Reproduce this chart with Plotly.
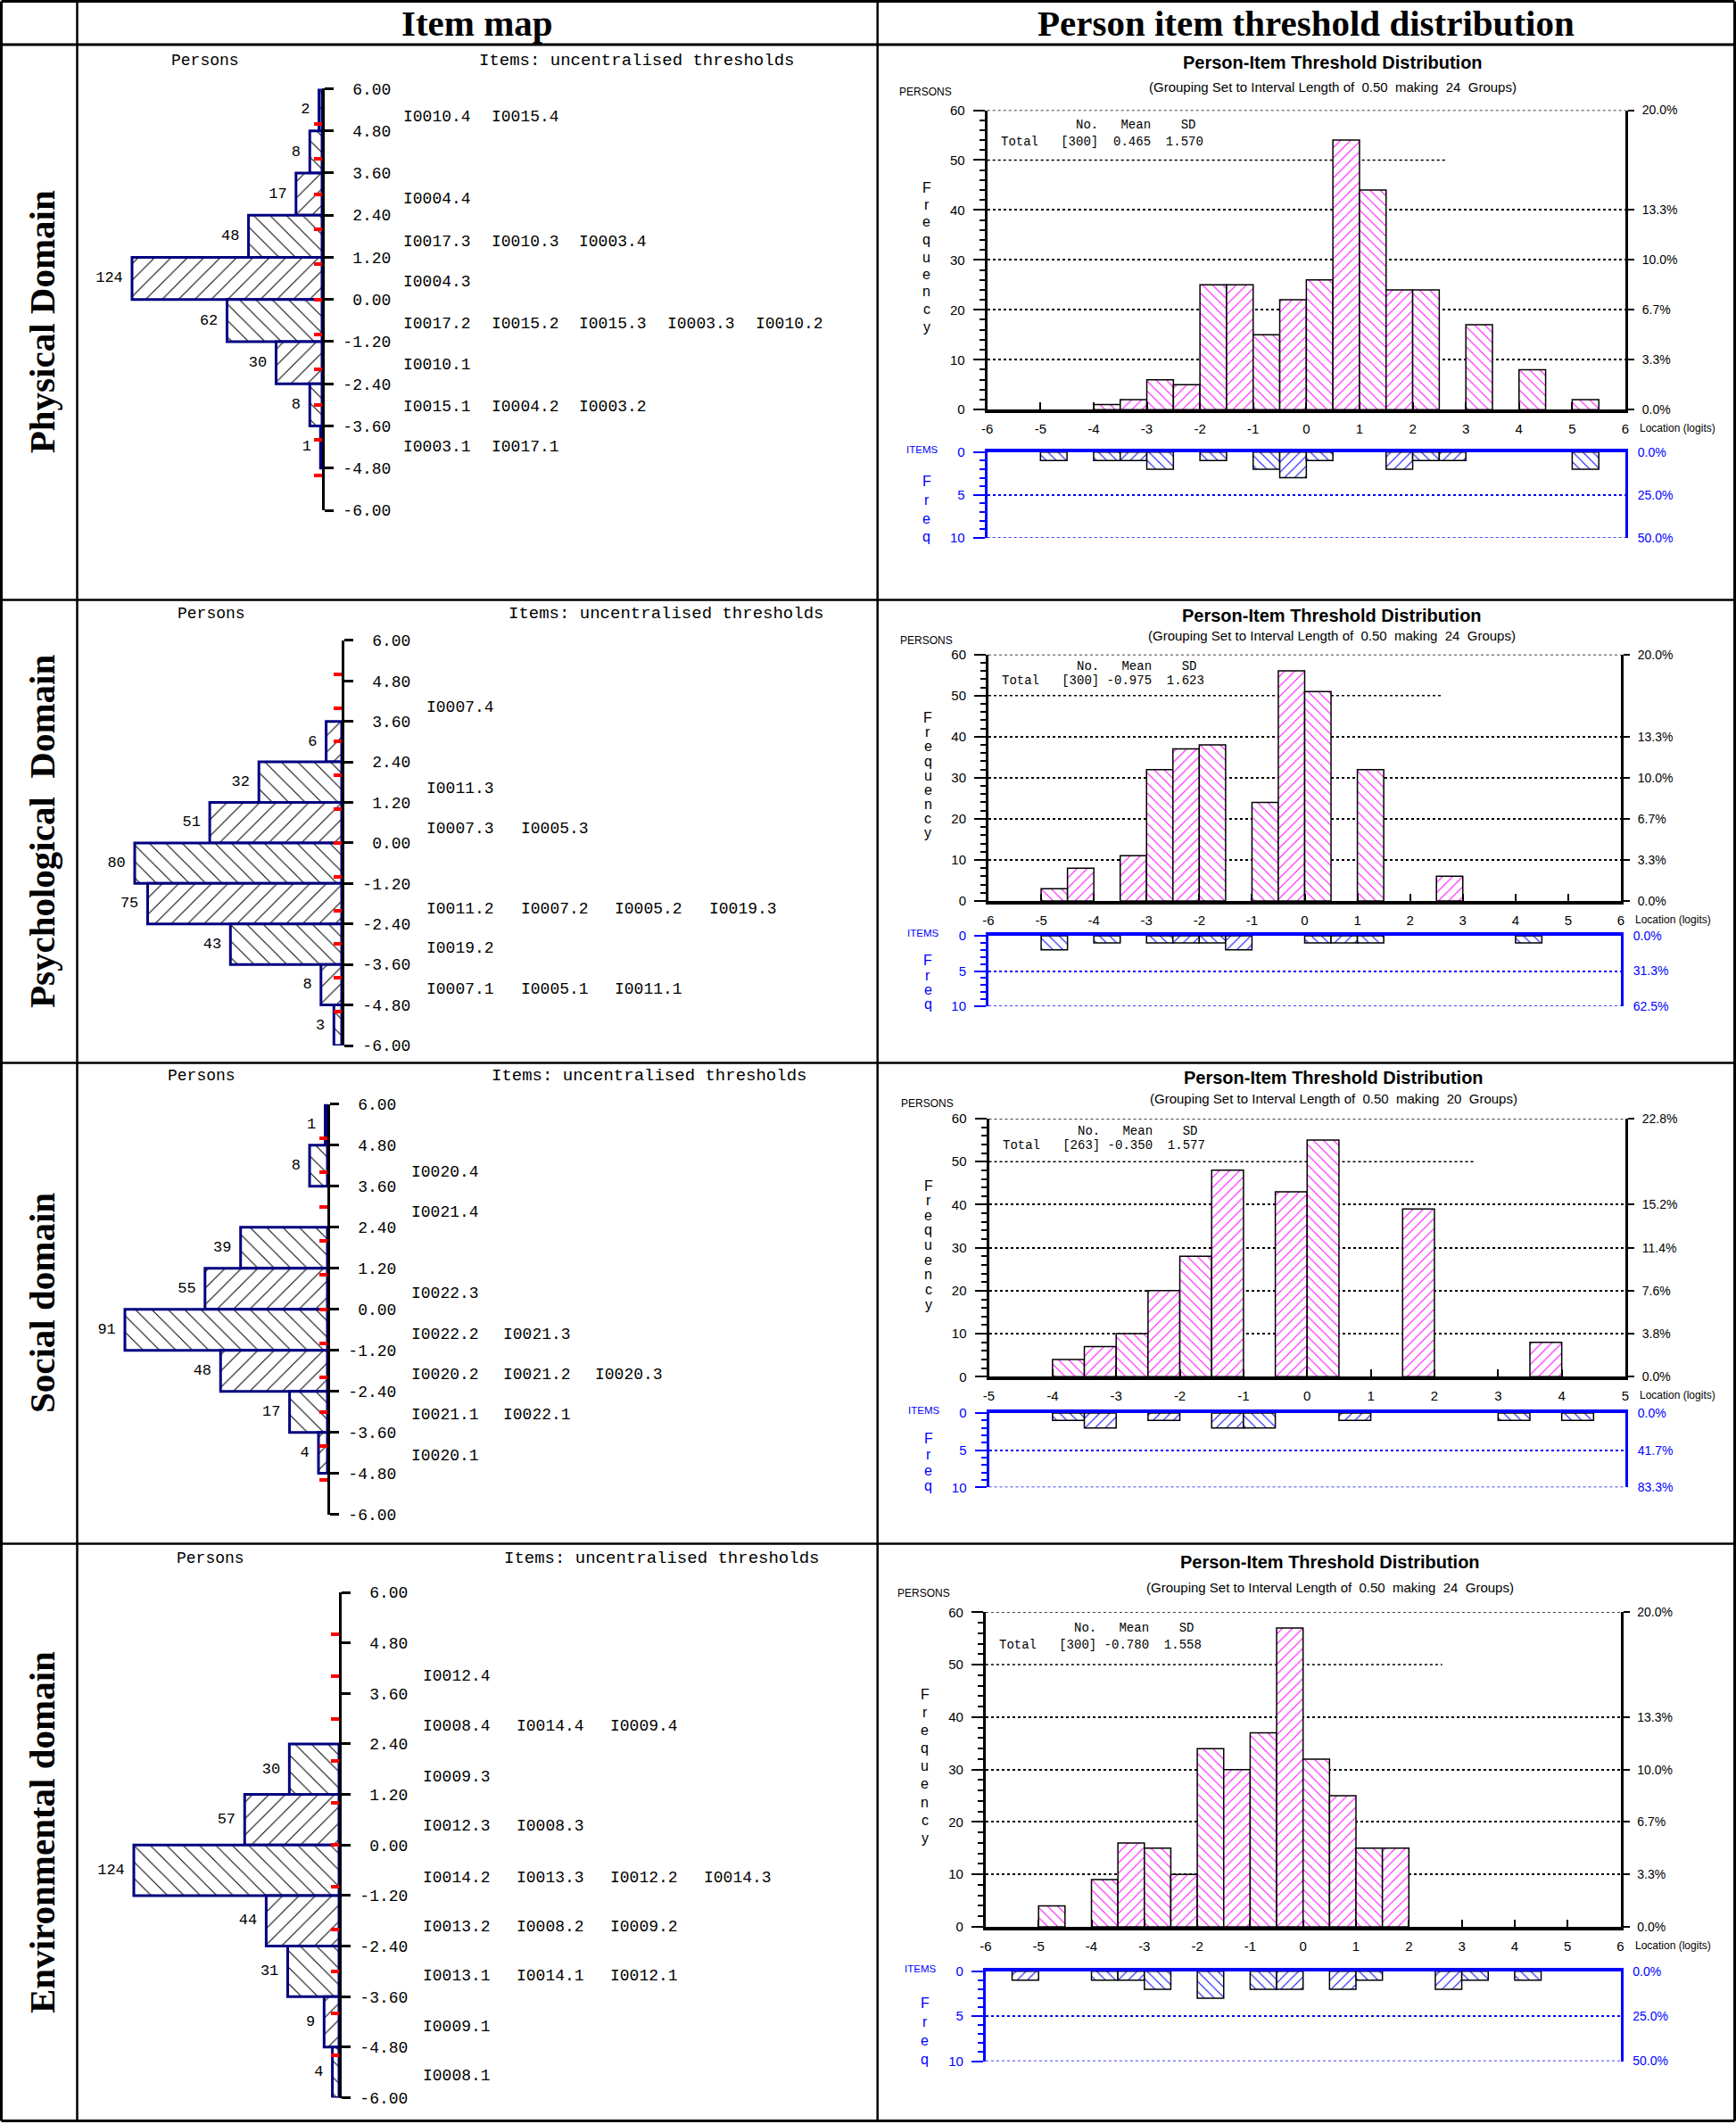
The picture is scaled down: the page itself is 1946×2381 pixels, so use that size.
import plotly.graph_objects as go

W, H = 1946, 2381
NB = "\u00a0"

# ---------------------------------------------------------------- data
ROW_LABELS = ["Physical Domain", "Psychological" + NB + " Domain", "Social domain", "Environmental domain"]
HEADERS = ["Item map", "Person item threshold distribution"]

# Item map: persons per 1.2-logit band, from top (6.0) to bottom (-6.0)
MAP_TICKS = [6.0, 4.8, 3.6, 2.4, 1.2, 0.0, -1.2, -2.4, -3.6, -4.8, -6.0]
MAP_BIN_CENTERS = [5.4, 4.2, 3.0, 1.8, 0.6, -0.6, -1.8, -3.0, -4.2, -5.4]
MAP_RED_TICKS = [6, 5, 4, 3, 2, 1, 0, -1, -2, -3, -4, -5, -6]

PHYS_MAP_PERSONS = [2, 8, 17, 48, 124, 62, 30, 8, 1, 0]
PSYCH_MAP_PERSONS = [0, 0, 6, 32, 51, 80, 75, 43, 8, 3]
SOC_MAP_PERSONS = [1, 8, 0, 39, 55, 91, 48, 17, 4, 0]
ENV_MAP_PERSONS = [0, 0, 0, 30, 57, 124, 44, 31, 9, 4]

PHYS_MAP_ITEM_Y = [5.2, 2.85, 1.65, 0.5, -0.7, -1.85, -3.05, -4.2]
PHYS_MAP_ITEMS = [
    ["I0010.4", "I0015.4"],
    ["I0004.4"],
    ["I0017.3", "I0010.3", "I0003.4"],
    ["I0004.3"],
    ["I0017.2", "I0015.2", "I0015.3", "I0003.3", "I0010.2"],
    ["I0010.1"],
    ["I0015.1", "I0004.2", "I0003.2"],
    ["I0003.1", "I0017.1"],
]
PSYCH_MAP_ITEM_Y = [4.0, 1.62, 0.43, -1.95, -3.12, -4.34]
PSYCH_MAP_ITEMS = [
    ["I0007.4"],
    ["I0011.3"],
    ["I0007.3", "I0005.3"],
    ["I0011.2", "I0007.2", "I0005.2", "I0019.3"],
    ["I0019.2"],
    ["I0007.1", "I0005.1", "I0011.1"],
]
SOC_MAP_ITEM_Y = [4.0, 2.83, 0.45, -0.75, -1.92, -3.09, -4.29]
SOC_MAP_ITEMS = [
    ["I0020.4"],
    ["I0021.4"],
    ["I0022.3"],
    ["I0022.2", "I0021.3"],
    ["I0020.2", "I0021.2", "I0020.3"],
    ["I0021.1", "I0022.1"],
    ["I0020.1"],
]
ENV_MAP_ITEM_Y = [4.0, 2.83, 1.62, 0.44, -0.77, -1.94, -3.10, -4.31, -5.48]
ENV_MAP_ITEMS = [
    ["I0012.4"],
    ["I0008.4", "I0014.4", "I0009.4"],
    ["I0009.3"],
    ["I0012.3", "I0008.3"],
    ["I0014.2", "I0013.3", "I0012.2", "I0014.3"],
    ["I0013.2", "I0008.2", "I0009.2"],
    ["I0013.1", "I0014.1", "I0012.1"],
    ["I0009.1"],
    ["I0008.1"],
]

# Person-item threshold distribution: 0.5-logit groups
CENTERS_24 = [-5.75, -5.25, -4.75, -4.25, -3.75, -3.25, -2.75, -2.25, -1.75, -1.25, -0.75, -0.25,
              0.25, 0.75, 1.25, 1.75, 2.25, 2.75, 3.25, 3.75, 4.25, 4.75, 5.25, 5.75]
CENTERS_20 = [-4.75, -4.25, -3.75, -3.25, -2.75, -2.25, -1.75, -1.25, -0.75, -0.25,
              0.25, 0.75, 1.25, 1.75, 2.25, 2.75, 3.25, 3.75, 4.25, 4.75]
XTICKS_12 = [-6, -5, -4, -3, -2, -1, 0, 1, 2, 3, 4, 5, 6]
XTICKS_10 = [-5, -4, -3, -2, -1, 0, 1, 2, 3, 4, 5]

PHYS_HIST_PERSONS = [0, 0, 0, 0, 1, 2, 6, 5, 25, 25, 15, 22, 26, 54, 44, 24, 24, 0, 17, 0, 8, 0, 2, 0]
PHYS_HIST_ITEMS = [0, 0, 1, 0, 1, 1, 2, 0, 1, 0, 2, 3, 1, 0, 0, 2, 1, 1, 0, 0, 0, 0, 2, 0]
PSYCH_HIST_PERSONS = [0, 0, 3, 8, 0, 11, 32, 37, 38, 0, 24, 56, 51, 0, 32, 0, 0, 6, 0, 0, 0, 0, 0, 0]
PSYCH_HIST_ITEMS = [0, 0, 2, 0, 1, 0, 1, 1, 1, 2, 0, 0, 1, 1, 1, 0, 0, 0, 0, 0, 1, 0, 0, 0]
SOC_HIST_PERSONS = [0, 0, 4, 7, 10, 20, 28, 48, 0, 43, 55, 0, 0, 39, 0, 0, 0, 8, 0, 0]
SOC_HIST_ITEMS = [0, 0, 1, 2, 0, 1, 0, 2, 2, 0, 0, 1, 0, 0, 0, 0, 1, 0, 1, 0]
ENV_HIST_PERSONS = [0, 0, 4, 0, 9, 16, 15, 10, 34, 30, 37, 57, 32, 25, 15, 15, 0, 0, 0, 0, 0, 0, 0, 0]
ENV_HIST_ITEMS = [0, 1, 0, 0, 1, 1, 2, 0, 3, 0, 2, 2, 0, 2, 1, 0, 0, 2, 1, 0, 1, 0, 0, 0]

PERSON_PCT_TICKS = [0, 10, 20, 30, 40, 60]
PHYS_PCT = ["0.0%", "3.3%", "6.7%", "10.0%", "13.3%", "20.0%"]
PSYCH_PCT = ["0.0%", "3.3%", "6.7%", "10.0%", "13.3%", "20.0%"]
SOC_PCT = ["0.0%", "3.8%", "7.6%", "11.4%", "15.2%", "22.8%"]
ENV_PCT = ["0.0%", "3.3%", "6.7%", "10.0%", "13.3%", "20.0%"]
ITEM_PCT_TICKS = [0, 5, 10]
PHYS_ITEM_PCT = ["0.0%", "25.0%", "50.0%"]
PSYCH_ITEM_PCT = ["0.0%", "31.3%", "62.5%"]
SOC_ITEM_PCT = ["0.0%", "41.7%", "83.3%"]
ENV_ITEM_PCT = ["0.0%", "25.0%", "50.0%"]

PHYS_STATS = ["300", "0.465", "1.570"]
PSYCH_STATS = ["300", "-0.975", "1.623"]
SOC_STATS = ["263", "-0.350", "1.577"]
ENV_STATS = ["300", "-0.780", "1.558"]
GROUPS = [24, 24, 20, 24]
GRID50_END = 2.63  # the 50-line stops short in the source chart

ROWS = [
    dict(map_persons=PHYS_MAP_PERSONS, item_y=PHYS_MAP_ITEM_Y, items=PHYS_MAP_ITEMS,
         centers=CENTERS_24, xticks=XTICKS_12, persons=PHYS_HIST_PERSONS, hitems=PHYS_HIST_ITEMS,
         pct=PHYS_PCT, ipct=PHYS_ITEM_PCT, stats=PHYS_STATS),
    dict(map_persons=PSYCH_MAP_PERSONS, item_y=PSYCH_MAP_ITEM_Y, items=PSYCH_MAP_ITEMS,
         centers=CENTERS_24, xticks=XTICKS_12, persons=PSYCH_HIST_PERSONS, hitems=PSYCH_HIST_ITEMS,
         pct=PSYCH_PCT, ipct=PSYCH_ITEM_PCT, stats=PSYCH_STATS),
    dict(map_persons=SOC_MAP_PERSONS, item_y=SOC_MAP_ITEM_Y, items=SOC_MAP_ITEMS,
         centers=CENTERS_20, xticks=XTICKS_10, persons=SOC_HIST_PERSONS, hitems=SOC_HIST_ITEMS,
         pct=SOC_PCT, ipct=SOC_ITEM_PCT, stats=SOC_STATS),
    dict(map_persons=ENV_MAP_PERSONS, item_y=ENV_MAP_ITEM_Y, items=ENV_MAP_ITEMS,
         centers=CENTERS_24, xticks=XTICKS_12, persons=ENV_HIST_PERSONS, hitems=ENV_HIST_ITEMS,
         pct=ENV_PCT, ipct=ENV_ITEM_PCT, stats=ENV_STATS),
]

# ---------------------------------------------------------------- layout geometry (pixels)
TABLE_X = [1.5, 86.5, 983.7, 1944.5]
TABLE_Y = [1.5, 50, 672.5, 1191.6, 1730.5, 2377.5]

MAP_GEOM = [
    dict(left=87, axis=361, top=99.4, bot=572, maxpx=148, pers=(190, 68), itl=(535, 68), lx=450, ldx=98.7),
    dict(left=87, axis=383, top=717.8, bot=1172, maxpx=151, pers=(197, 687.6), itl=(568, 687.6), lx=476, ldx=105.6),
    dict(left=87, axis=367, top=1237.8, bot=1697.6, maxpx=140, pers=(186, 1206.5), itl=(549, 1206.5), lx=459, ldx=103),
    dict(left=87, axis=380, top=1785, bot=2351.5, maxpx=150, pers=(196, 1746.7), itl=(563, 1746.7), lx=472, ldx=105),
]
HIST_GEOM = [
    dict(xl=1106.7, xr=1822, y60=123.5, y0=459.2, i0=506.7, i10=602.8, ty=69.8, sy=97.4, py=103.4,
         fq=(210, 366), bq=(540, 601.5)),
    dict(xl=1108, xr=1817, y60=733.7, y0=1010, i0=1049, i10=1128, ty=690, sy=712.5, py=717.8,
         fq=(804.6, 934), bq=(1076.6, 1126)),
    dict(xl=1108.5, xr=1822, y60=1254, y0=1543.3, i0=1584, i10=1667.3, ty=1207.5, sy=1231.6, py=1236.8,
         fq=(1329, 1462), bq=(1612.9, 1665.6)),
    dict(xl=1104.9, xr=1816.5, y60=1807.3, y0=2160, i0=2209.8, i10=2310.5, ty=1750.9, sy=1779.9, py=1786,
         fq=(1899, 2060.5), bq=(2245, 2308)),
]

MAGENTA = "#FF00FF"
BLUE = "#0000FF"
NAVY = "#000080"
MONO = "Liberation Mono"
SANS = "Liberation Sans"
SERIF = "Liberation Serif"


def px_x(p):
    return p / W


def px_y(p):
    return 1 - p / H


layout = dict(width=W, height=H, margin=dict(l=0, r=0, t=0, b=0), template="none",
              paper_bgcolor="white", plot_bgcolor="rgba(0,0,0,0)", showlegend=False,
              barmode="overlay", font=dict(family=SANS, color="black"))
annotations = []
shapes = []
traces = []
counters = {"x": 0, "y": 0}


def add_axis(kind, **props):
    counters[kind] += 1
    n = counters[kind]
    ref = kind if n == 1 else f"{kind}{n}"
    layout[f"{kind}axis" + ("" if n == 1 else str(n))] = props
    return ref


def akey(ref):
    return ref[0] + "axis" + ref[1:]


def ghost(xref, yref, x, y):
    # invisible point so that the overlaying axis is drawn
    traces.append(go.Scatter(x=[x], y=[y], mode="markers", marker=dict(opacity=0, size=1),
                             xaxis=xref, yaxis=yref, hoverinfo="skip"))


def ann(text, x, y, size, family=SANS, color="black", xanchor="center", yanchor="middle",
        xref="paper", yref="paper", angle=0):
    annotations.append(dict(text=text, x=x, y=y, xref=xref, yref=yref, showarrow=False,
                            xanchor=xanchor, yanchor=yanchor, textangle=angle,
                            font=dict(family=family, size=size, color=color)))


def hline(xref, yref, x0, x1, y, color):
    shapes.append(dict(type="line", xref=xref, yref=yref, x0=x0, x1=x1, y0=y, y1=y, layer="below",
                       line=dict(color=color, width=1.5, dash="dot")))


# ---------------------------------------------------------------- table frame
for xp in TABLE_X:
    shapes.append(dict(type="line", xref="paper", yref="paper", x0=px_x(xp), x1=px_x(xp),
                       y0=px_y(TABLE_Y[0]), y1=px_y(TABLE_Y[-1]),
                       line=dict(color="black", width=3 if xp in (TABLE_X[0], TABLE_X[-1]) else 2.5)))
for yp in TABLE_Y:
    shapes.append(dict(type="line", xref="paper", yref="paper", x0=px_x(TABLE_X[0]), x1=px_x(TABLE_X[-1]),
                       y0=px_y(yp), y1=px_y(yp),
                       line=dict(color="black", width=3 if yp in (TABLE_Y[0], TABLE_Y[1], TABLE_Y[-1]) else 2.5)))

ann("<b>" + HEADERS[0] + "</b>", px_x((TABLE_X[1] + TABLE_X[2]) / 2), px_y(26), 41, family=SERIF)
ann("<b>" + HEADERS[1] + "</b>", px_x((TABLE_X[2] + TABLE_X[3]) / 2), px_y(26), 41, family=SERIF)
for r, lab in enumerate(ROW_LABELS):
    yc = (TABLE_Y[r + 1] + TABLE_Y[r + 2]) / 2
    ann("<b>" + lab + "</b>", px_x(47), px_y(yc), 41, family=SERIF, angle=-90)

# ---------------------------------------------------------------- rows
for r, row in enumerate(ROWS):
    g = MAP_GEOM[r]
    persons = row["map_persons"]
    xmax = max(persons) * (g["axis"] - g["left"]) / (g["axis"] - g["maxpx"])

    xa = add_axis("x", domain=[px_x(g["left"]), px_x(g["axis"])], range=[xmax, 0], visible=False,
                  fixedrange=True)
    ya = add_axis("y", domain=[px_y(g["bot"]), px_y(g["top"])], range=[-6, 6], side="right",
                  showline=True, linecolor="black", linewidth=2.5, ticks="outside", ticklen=10,
                  tickwidth=2.5, tickcolor="black", tickvals=MAP_TICKS,
                  ticktext=[f"{v:5.2f}".replace(" ", NB) for v in MAP_TICKS],
                  tickfont=dict(family=MONO, size=18, color="black"), ticklabelstandoff=7,
                  showgrid=False, zeroline=False, layer="below traces", fixedrange=True)
    layout[akey(xa)]["anchor"] = ya
    layout[akey(ya)]["anchor"] = xa
    yred = add_axis("y", overlaying=ya, anchor=xa, side="right", range=[-6, 6], tickvals=MAP_RED_TICKS,
                    ticks="inside", ticklen=9, tickwidth=4, tickcolor="red", showticklabels=False,
                    showline=False, showgrid=False, zeroline=False, layer="above traces", fixedrange=True)
    ghost(xa, yred, 0, 0)

    idx = [i for i, v in enumerate(persons) if v > 0]
    traces.append(go.Bar(
        x=[persons[i] for i in idx], y=[MAP_BIN_CENTERS[i] for i in idx], orientation="h", width=1.2,
        xaxis=xa, yaxis=ya, hoverinfo="skip",
        marker=dict(color="white", line=dict(color=NAVY, width=3),
                    pattern=dict(shape=["\\" if i % 2 else "/" for i in idx], fgcolor="black",
                                 bgcolor="white", size=13, solidity=0.08, fillmode="replace"))))
    traces.append(go.Scatter(
        x=[persons[i] for i in idx], y=[MAP_BIN_CENTERS[i] for i in idx], mode="text",
        text=[str(persons[i]) + NB for i in idx], textposition="middle left", cliponaxis=False,
        textfont=dict(family=MONO, size=17, color="black"), xaxis=xa, yaxis=ya, hoverinfo="skip"))

    ann("Persons", px_x(g["pers"][0]), px_y(g["pers"][1]), 18, family=MONO, xanchor="left")
    ann("Items: uncentralised thresholds", px_x(g["itl"][0]), px_y(g["itl"][1]), 19, family=MONO,
        xanchor="left")
    for yv, labels in zip(row["item_y"], row["items"]):
        for k, lab in enumerate(labels):
            ann(lab, px_x(g["lx"] + k * g["ldx"]), yv, 18, family=MONO, xanchor="left", yref=ya)

    # ---------------- person-item threshold distribution
    h = HIST_GEOM[r]
    centers = row["centers"]
    xt = row["xticks"]
    lo, hi = xt[0], xt[-1]
    xdom = [px_x(h["xl"]), px_x(h["xr"])]
    tf = dict(family=SANS, size=15, color="black")
    tfb = dict(family=SANS, size=15, color=BLUE)

    xh = add_axis("x", domain=xdom, range=[lo, hi], tickvals=xt, ticktext=[str(v) for v in xt],
                  ticks="inside", ticklen=8, tickwidth=2, tickcolor="black", showline=True,
                  linecolor="black", linewidth=4, showgrid=False, zeroline=False, tickfont=tf,
                  ticklabelstandoff=5, fixedrange=True)
    yh = add_axis("y", domain=[px_y(h["y0"]), px_y(h["y60"])], range=[0, 60], side="left",
                  tick0=0, dtick=10, ticks="outside", ticklen=13, tickwidth=2, tickcolor="black",
                  showline=True, linewidth=3, linecolor="black", showgrid=False, zeroline=False,
                  minor=dict(dtick=2, tick0=0, ticks="outside", ticklen=6, tickwidth=1.5, tickcolor="black"),
                  tickfont=tf, ticklabelstandoff=6, fixedrange=True)
    layout[akey(xh)]["anchor"] = yh
    layout[akey(yh)]["anchor"] = xh
    yhr = add_axis("y", overlaying=yh, anchor=xh, side="right", range=[0, 60], tickvals=PERSON_PCT_TICKS,
                   ticktext=row["pct"], ticks="outside", ticklen=7, tickwidth=2, tickcolor="black",
                   showline=True, linewidth=3, linecolor="black", showgrid=True, gridcolor="black",
                   griddash="dot", gridwidth=1.5, zeroline=False, tickfont=dict(family=SANS, size=14),
                   ticklabelstandoff=6, fixedrange=True)
    ghost(xh, yhr, lo, 0)
    hline(xh, yh, lo, GRID50_END, 50, "black")
    hline(xh, yh, lo, hi, 60, "black")

    vals = row["persons"]
    idx = [i for i, v in enumerate(vals) if v > 0]
    traces.append(go.Bar(
        x=[centers[i] for i in idx], y=[vals[i] for i in idx], width=0.5, xaxis=xh, yaxis=yh,
        hoverinfo="skip",
        marker=dict(color="white", line=dict(color="black", width=1.5),
                    pattern=dict(shape=["\\" if i % 2 == 0 else "/" for i in idx], fgcolor=MAGENTA,
                                 bgcolor="white", size=8, solidity=0.13, fillmode="replace"))))

    # items panel
    xi = add_axis("x", domain=xdom, range=[lo, hi], side="top", showline=True, linecolor=BLUE,
                  linewidth=4, showticklabels=False, ticks="", showgrid=False, zeroline=False,
                  fixedrange=True)
    yi = add_axis("y", domain=[px_y(h["i10"]), px_y(h["i0"])], range=[10, 0], side="left",
                  tick0=0, dtick=5, ticks="outside", ticklen=13, tickwidth=2, tickcolor=BLUE,
                  showline=True, linewidth=3, linecolor=BLUE, showgrid=False, zeroline=False,
                  minor=dict(dtick=1, tick0=0, ticks="outside", ticklen=6, tickwidth=1.5, tickcolor=BLUE),
                  tickfont=tfb, ticklabelstandoff=6, fixedrange=True)
    layout[akey(xi)]["anchor"] = yi
    layout[akey(yi)]["anchor"] = xi
    yir = add_axis("y", overlaying=yi, anchor=xi, side="right", range=[10, 0], tickvals=ITEM_PCT_TICKS,
                   ticktext=row["ipct"], ticks="", showline=True, linewidth=3, linecolor=BLUE,
                   showgrid=True, gridcolor=BLUE, griddash="dot", gridwidth=1.5, zeroline=False,
                   tickfont=dict(family=SANS, size=14, color=BLUE), ticklabelstandoff=8, fixedrange=True)
    ghost(xi, yir, lo, 0)
    hline(xi, yi, lo, hi, 10, BLUE)

    ivals = row["hitems"]
    idx = [i for i, v in enumerate(ivals) if v > 0]
    traces.append(go.Bar(
        x=[centers[i] for i in idx], y=[ivals[i] for i in idx], width=0.5, xaxis=xi, yaxis=yi,
        hoverinfo="skip",
        marker=dict(color="white", line=dict(color="black", width=1.5),
                    pattern=dict(shape=["\\" if i % 2 == 0 else "/" for i in idx], fgcolor=BLUE,
                                 bgcolor="white", size=8, solidity=0.13, fillmode="replace"))))

    # texts
    xc = (h["xl"] + h["xr"]) / 2 + 30
    ann("<b>Person-Item Threshold Distribution</b>", px_x(xc), px_y(h["ty"]), 20)
    sub = ("(Grouping Set to Interval Length of" + NB * 2 + "0.50" + NB * 2 + "making" + NB * 2
           + str(GROUPS[r]) + NB * 2 + "Groups)")
    ann(sub, px_x(xc), px_y(h["sy"]), 15)
    ann("PERSONS", px_x(h["xl"] - 101), px_y(h["py"]), 12, xanchor="left")
    f0, f1 = h["fq"]
    for k, ch in enumerate("Frequency"):
        ann(ch, px_x(h["xl"] - 68), px_y(f0 + k * (f1 - f0) / 8), 16)
    b0, b1 = h["bq"]
    for k, ch in enumerate("Freq"):
        ann(ch, px_x(h["xl"] - 68), px_y(b0 + k * (b1 - b0) / 3), 16, color=BLUE)
    ann("ITEMS", px_x(h["xl"] - 93), px_y(h["i0"] - 3), 11.5, color=BLUE, xanchor="left")
    ann("Location (logits)", px_x(h["xr"] + 14), px_y(h["y0"] + 21), 12, xanchor="left")

    n, mean, sd = row["stats"]
    head = NB * 10 + "No." + NB * 3 + "Mean" + NB * 4 + "SD"
    tot = "Total" + NB * 3 + f"[{n}]" + NB + mean.rjust(6).replace(" ", NB) + NB * 2 + sd
    ann(head, 0.019, 0.951, 14, family=MONO, xanchor="left", xref=xh + " domain", yref=yh + " domain")
    ann(tot, 0.019, 0.895, 14, family=MONO, xanchor="left", xref=xh + " domain", yref=yh + " domain")

layout["annotations"] = annotations
layout["shapes"] = shapes

fig = go.Figure(data=traces, layout=layout)
fig.write_html("out.html", config={"displayModeBar": False},
               post_script="document.body.style.margin='0px';")
